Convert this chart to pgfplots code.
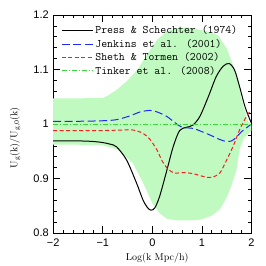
\documentclass[border=0pt]{standalone}
\usepackage{fontspec}
\usepackage{pgfplots}
\pgfplotsset{compat=1.18}
\newfontfamily\ticksfont{Liberation Sans}
\newfontfamily\labfont{Latin Modern Mono}
\definecolor{bandgreen}{RGB}{192,250,192}
\definecolor{tgreen}{RGB}{60,215,60}
\definecolor{jblue}{RGB}{30,40,250}
\definecolor{sred}{RGB}{250,30,30}
\begin{document}
\begin{tikzpicture}
\begin{axis}[
  scale only axis,
  width=198.4pt, height=218.3pt,
  xmin=-2, xmax=2, ymin=0.8, ymax=1.2,
  xtick={-2,-1,0,1,2},
  xticklabels={−2,−1,0,1,2},
  ytick={0.8,0.9,1,1.1,1.2},
  yticklabels={0.8,0.9,1,1.1,1.2},
  minor x tick num=4, minor y tick num=4,
  tick align=inside,
  major tick length=7pt, minor tick length=3.5pt,
  tick style={black, line width=0.6pt},
  axis line style={line width=0.8pt},
  ticklabel style={font=\fontsize{11}{12}\selectfont\ticksfont},
  xticklabel style={yshift=-2pt},
  yticklabel style={xshift=-1pt},
  xlabel={Log(k Mpc/h)},
  ylabel={U\textsubscript{g}(k)/U\textsubscript{g,0}(k)},
  label style={font=\fontsize{13.8}{15}\selectfont\labfont},
  every axis x label/.style={at={(axis description cs:0.525,-0.113)}, anchor=center},
  every axis y label/.style={at={(axis description cs:-0.193,0.437)}, rotate=90, anchor=center},
  legend style={at={(axis description cs:0.035,0.965)}, anchor=north west, draw=none, fill=none,
    font=\fontsize{11.5}{11.1}\selectfont\labfont, row sep=0pt, inner sep=1pt},
  legend cell align=left,
  legend image code/.code={\draw[#1] (0pt,0pt) -- (31pt,0pt);},
]
\addplot[fill=bandgreen, draw=none, forget plot] coordinates {
(-2.1,1.047) (-1.5,1.047) (-1.0,1.048) (-0.9,1.052) (-0.7,1.064) (-0.5,1.080) (-0.3,1.100)
(-0.1,1.128) (0.1,1.155) (0.3,1.170) (0.5,1.176) (0.7,1.177) (0.9,1.174) (1.0,1.172)
(1.2,1.168) (1.33,1.162) (1.5,1.139) (1.63,1.108) (1.73,1.078) (1.8,1.047) (1.87,1.023)
(1.93,1.005) (2.0,0.998) (2.05,0.995)
(2.05,0.990) (2.0,0.988) (1.85,0.975) (1.76,0.953) (1.7,0.916) (1.6,0.888) (1.5,0.865)
(1.36,0.843) (1.2,0.832) (1.0,0.825) (0.8,0.823) (0.5,0.823) (0.3,0.826) (0.15,0.836)
(0,0.855) (-0.2,0.895) (-0.4,0.929) (-0.7,0.953) (-1.0,0.961) (-1.5,0.962) (-2.1,0.962)
} -- cycle;
\addplot[black, line width=1pt, smooth] coordinates {
(-2,0.969) (-1.5,0.969) (-1.2,0.968) (-1.0,0.966) (-0.85,0.963) (-0.72,0.958) (-0.52,0.934)
(-0.32,0.892) (-0.19,0.861) (-0.1,0.847) (-0.03,0.842) (0.05,0.846) (0.15,0.868) (0.29,0.914)
(0.42,0.958) (0.55,0.988) (0.69,0.994) (0.82,0.998) (0.96,1.014) (1.13,1.050) (1.29,1.087)
(1.43,1.106) (1.55,1.111) (1.66,1.099) (1.76,1.069) (1.87,1.032) (1.97,1.008) (2.0,1.002)
};
\addlegendentry{Press \& Schechter (1974)}
\addplot[jblue, line width=1pt, dash pattern=on 8pt off 3.5pt, smooth] coordinates {
(-2,1.005) (-1.5,1.005) (-1.0,1.006) (-0.72,1.008) (-0.45,1.015) (-0.25,1.022) (-0.05,1.025)
(0.1,1.022) (0.29,1.014) (0.45,1.003) (0.6,0.994) (0.82,0.992) (1.0,0.986) (1.16,0.980)
(1.35,0.972) (1.49,0.968) (1.6,0.969) (1.7,0.976) (1.8,0.986) (1.9,0.993) (2.0,1.000)
};
\addlegendentry{Jenkins et al. (2001)}
\addplot[sred, line width=1pt, dash pattern=on 4pt off 2.5pt, smooth] coordinates {
(-2,0.988) (-1.5,0.988) (-1.0,0.988) (-0.6,0.989) (-0.39,0.989) (-0.19,0.983) (-0.05,0.972)
(0.09,0.953) (0.2,0.932) (0.32,0.917) (0.45,0.910) (0.62,0.911) (0.82,0.909) (1.02,0.904)
(1.19,0.902) (1.36,0.910) (1.49,0.932) (1.63,0.959) (1.76,0.989) (1.9,1.014) (2.0,1.026)
};
\addlegendentry{Sheth \& Tormen (2002)}
\addplot[tgreen, line width=1pt, dash pattern=on 5pt off 2pt on 1pt off 2pt] coordinates {
(-2,1.0) (2,1.0)
};
\addlegendentry{Tinker et al. (2008)}
\end{axis}
\path (-53.3pt,-32.7pt) rectangle (212.7pt,233.3pt);
\end{tikzpicture}
\end{document}
